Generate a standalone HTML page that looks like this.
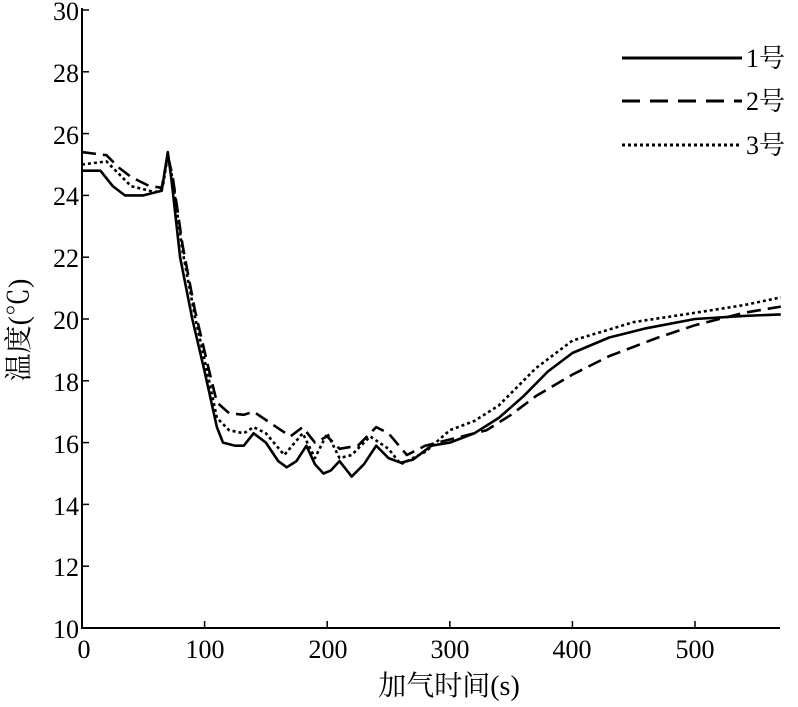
<!DOCTYPE html>
<html><head><meta charset="utf-8"><style>
body{margin:0;background:#fff}
svg text{font-family:"Liberation Serif","Noto Serif CJK SC",serif;fill:#000}
</style></head><body>
<svg id="s" width="798" height="702" xmlns="http://www.w3.org/2000/svg">
<g stroke="#000" stroke-width="2" fill="none">
<line x1="82" y1="8" x2="82" y2="629"/>
<line x1="81" y1="628" x2="780" y2="628"/>
</g>
<g id="ticks" stroke="#000" stroke-width="1.5"></g>
<g font-size="26" text-anchor="end">
<text x="79" y="20">30</text><text x="79" y="82">28</text><text x="79" y="144">26</text><text x="79" y="205">24</text><text x="79" y="267">22</text><text x="79" y="329">20</text><text x="79" y="391">18</text><text x="79" y="453">16</text><text x="79" y="515">14</text><text x="79" y="576">12</text><text x="79" y="638">10</text>
</g>
<g font-size="26" text-anchor="middle">
<text x="84" y="658">0</text><text x="205" y="658">100</text><text x="328" y="658">200</text><text x="450" y="658">300</text><text x="572" y="658">400</text><text x="695" y="658">500</text>
<text x="449" y="695" font-size="28">加气时间(s)</text>
<text transform="translate(28,330) rotate(-90)" font-size="28">温度(℃)</text>
</g>
<g stroke="#000" stroke-width="3" fill="none">
<line x1="622" y1="58" x2="742" y2="58"/>
<line x1="622" y1="101" x2="742" y2="101" stroke-dasharray="18,10"/>
<line x1="622" y1="145" x2="742" y2="145" stroke-dasharray="3,3"/>
</g>
<g font-size="26"><text x="746" y="67">1号</text><text x="746" y="110">2号</text><text x="746" y="154">3号</text></g>
<g id="curves" fill="none" stroke="#000" stroke-width="2.6" stroke-linejoin="round"></g>
</svg>
<script>
var X=function(t){return 82+1.226*t},Y=function(v){return 628-30.9*(v-10)};
var ns="http://www.w3.org/2000/svg";
var tk=document.getElementById("ticks");
for(var t=100;t<=500;t+=100){var l=document.createElementNS(ns,"line");l.setAttribute("x1",X(t));l.setAttribute("x2",X(t));l.setAttribute("y1",628);l.setAttribute("y2",621);tk.appendChild(l);}
for(var v=12;v<=30;v+=2){var l=document.createElementNS(ns,"line");l.setAttribute("x1",82);l.setAttribute("x2",89);l.setAttribute("y1",Y(v));l.setAttribute("y2",Y(v));tk.appendChild(l);}
var c1=[[0,24.8],[15,24.8],[25,24.3],[35,24.0],[50,24.0],[65,24.15],[70,25.4],[73,24.5],[80,22],[90,20],[100,18.3],[110,16.5],[115,16.0],[125,15.9],[132,15.9],[140,16.3],[150,16.0],[160,15.4],[167,15.2],[175,15.4],[183,15.9],[190,15.3],[197,15.0],[203,15.1],[210,15.4],[220,14.9],[230,15.3],[240,15.9],[250,15.5],[260,15.35],[270,15.45],[285,15.9],[300,16.0],[320,16.3],[340,16.8],[360,17.5],[380,18.3],[400,18.9],[430,19.4],[460,19.7],[500,20.0],[540,20.1],[570,20.15]];
var c2=[[0,25.4],[20,25.3],[30,24.9],[40,24.6],[55,24.3],[65,24.25],[70,25.3],[74,24.6],[82,22.4],[92,20.3],[102,18.6],[110,17.3],[120,16.95],[132,16.9],[140,17.0],[155,16.6],[170,16.2],[180,16.5],[190,16.0],[200,16.2],[210,15.8],[225,15.9],[240,16.5],[250,16.3],[265,15.6],[280,15.9],[300,16.1],[330,16.4],[350,16.9],[370,17.5],[400,18.2],[430,18.8],[470,19.4],[500,19.8],[540,20.2],[570,20.4]];
var c3=[[0,25.0],[20,25.1],[30,24.7],[40,24.3],[60,24.1],[66,24.3],[70,25.3],[74,24.5],[82,22.2],[92,20.1],[102,18.3],[110,16.8],[120,16.4],[132,16.3],[140,16.5],[150,16.3],[165,15.6],[180,16.3],[190,15.5],[200,16.3],[210,15.5],[220,15.6],[235,16.2],[250,15.8],[260,15.3],[280,15.7],[300,16.4],[320,16.7],[340,17.2],[355,17.8],[370,18.4],[400,19.3],[450,19.9],[500,20.2],[540,20.45],[570,20.7]];
var g=document.getElementById("curves");
[[c1,""],[c2,"14,7"],[c3,"3,3"]].forEach(function(p){var d="";p[0].forEach(function(q,i){d+=(i?"L":"M")+X(q[0]).toFixed(1)+","+Y(q[1]).toFixed(1)});var e=document.createElementNS(ns,"path");e.setAttribute("d",d);if(p[1])e.setAttribute("stroke-dasharray",p[1]);g.appendChild(e);});
</script>
</body></html>
